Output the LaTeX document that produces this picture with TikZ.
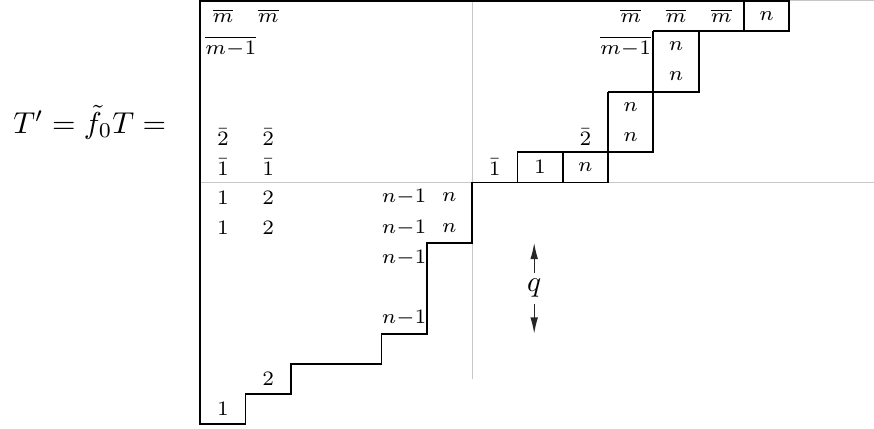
\documentclass[tikz,border=0pt]{standalone}
\usepackage{amsmath,amssymb}
\usetikzlibrary{arrows.meta}
\newcommand{\mb}{\overline{m}}
\newcommand{\mmb}{\overline{m{-}1}}
\begin{document}
\begin{tikzpicture}[x=0.543cm,y=0.3625cm]
			\tikzstyle{every node}+=[inner sep=0pt]
			\tikzstyle{entry}=[font=\scriptsize]
			\tikzstyle{axis}=[black!22]
			\tikzstyle{tabline}=[black,semithick]
			\tikzstyle{height}=[-{Latex[length=5.5pt,width=2.6pt]},black!85]
			\useasboundingbox (-10.42,-8.13) rectangle (8.87,6.03);
			% axes
			\draw [axis] (-6,0) -- (8.87,0);
			\draw [axis] (-6,6) -- (8.87,6);
			\draw [axis] (0,6) -- (0,-6.5);
			% outline of T'
			\draw [tabline] (-6,6) -- (7,6) -- (7,5) -- (5,5) -- (5,3) -- (4,3) -- (4,1) -- (3,1) -- (3,0) -- (0,0)
				-- (0,-2) -- (-1,-2) -- (-1,-5) -- (-2,-5) -- (-2,-6) -- (-4,-6) -- (-4,-7) -- (-5,-7) -- (-5,-8) -- (-6,-8) -- cycle;
			\draw [tabline] (6,5) -- (6,6);
			\draw [tabline] (4,5) -- (5,5);
			\draw [tabline] (4,3) -- (4,5);
			\draw [tabline] (3,3) -- (4,3);
			\draw [tabline] (3,1) -- (3,3);
			\draw [tabline] (1,1) -- (3,1);
			\draw [tabline] (1,0) -- (1,1);
			\draw [tabline] (2,0) -- (2,1);
			% equation
			\node [scale=1.03] (lhs) at (-8.44,2.0) {$T' = \tilde{f}_0 T =$};
			% upper left
			\node [entry] (ul1) at (-5.5,5.5) {$\mb$};
			\node [entry] (ul2) at (-4.5,5.5) {$\mb$};
			\node [entry,anchor=west] (ul3) at (-5.9,4.5) {$\mmb$};
			\node [entry] (ul4) at (-5.5,1.5) {$\bar{2}$};
			\node [entry] (ul5) at (-4.5,1.5) {$\bar{2}$};
			\node [entry] (ul6) at (-5.5,0.5) {$\bar{1}$};
			\node [entry] (ul7) at (-4.5,0.5) {$\bar{1}$};
			% upper right
			\node [entry] (ur1) at (3.5,5.5) {$\mb$};
			\node [entry] (ur2) at (4.5,5.5) {$\mb$};
			\node [entry] (ur3) at (5.5,5.5) {$\mb$};
			\node [entry] (ur4) at (6.5,5.5) {$n$};
			\node [entry,anchor=east] (ur5) at (3.96,4.5) {$\mmb$};
			\node [entry] (ur6) at (4.5,4.5) {$n$};
			\node [entry] (ur7) at (4.5,3.5) {$n$};
			\node [entry] (ur8) at (3.5,2.5) {$n$};
			\node [entry] (ur9) at (3.5,1.5) {$n$};
			\node [entry] (ur10) at (2.5,1.5) {$\bar{2}$};
			\node [entry] (ur11) at (0.5,0.5) {$\bar{1}$};
			\node [entry] (ur12) at (1.5,0.5) {$1$};
			\node [entry] (ur13) at (2.5,0.5) {$n$};
			% lower left
			\node [entry] (ll1) at (-5.5,-0.5) {$1$};
			\node [entry] (ll2) at (-4.5,-0.5) {$2$};
			\node [entry] (ll3) at (-1.5,-0.5) {$n{-}1$};
			\node [entry] (ll4) at (-0.5,-0.5) {$n$};
			\node [entry] (ll5) at (-5.5,-1.5) {$1$};
			\node [entry] (ll6) at (-4.5,-1.5) {$2$};
			\node [entry] (ll7) at (-1.5,-1.5) {$n{-}1$};
			\node [entry] (ll8) at (-0.5,-1.5) {$n$};
			\node [entry] (ll9) at (-1.5,-2.5) {$n{-}1$};
			\node [entry] (ll10) at (-1.5,-4.5) {$n{-}1$};
			\node [entry] (ll11) at (-4.5,-6.5) {$2$};
			\node [entry] (ll12) at (-5.5,-7.5) {$1$};
			% height q
			\node [inner sep=2pt] (q) at (1.37,-3.5) {$q$};
			\coordinate (qtop) at (1.37,-2);
			\coordinate (qbot) at (1.37,-5);
			\draw [height] (q) -- (qtop);
			\draw [height] (q) -- (qbot);
\end{tikzpicture}
\end{document}
